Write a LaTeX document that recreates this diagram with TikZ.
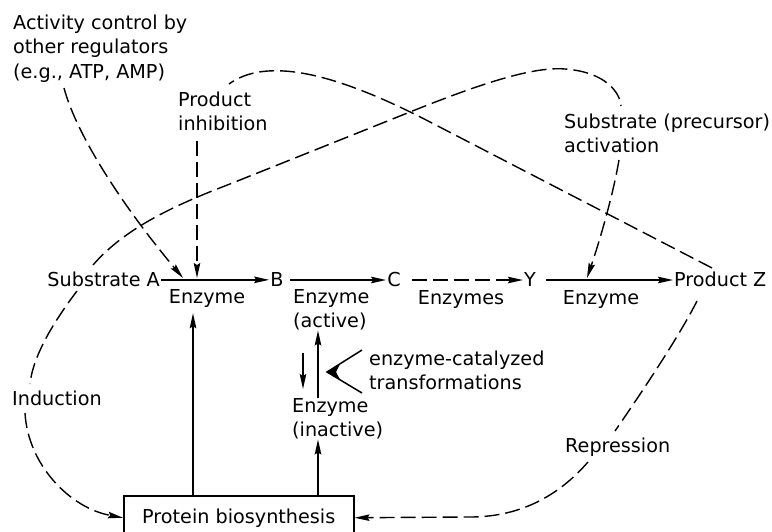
\documentclass[tikz,border=0pt]{standalone}
\usepackage{fontspec}
\setmainfont{DejaVu Sans}
\usetikzlibrary{arrows.meta}
\begin{document}
\begin{tikzpicture}[x=1pt,y=-1pt,
  every node/.style={font=\fontsize{19.2}{24.5}\selectfont, inner sep=1pt},
  lbl/.style={align=left, inner sep=0pt, anchor=north west},
  arr/.style={line width=1.7pt, -{Stealth[length=15pt,width=6.5pt,inset=2pt]}},
  dsh/.style={line width=1.4pt, dash pattern=on 15pt off 6pt},
  darr/.style={dsh, -{Stealth[length=15pt,width=6.5pt,inset=2pt]}},
  boxstyle/.style={draw, line width=1.5pt, minimum width=230pt, minimum height=44pt, anchor=north west, inner sep=0pt}
]
\fill[white] (0,0) rectangle (772,532);
\useasboundingbox (0,0) rectangle (772,532);

% labels
\node[lbl] (act) at (13,14.4) {Activity control by\\other regulators\\(e.g., ATP, AMP)};
\node[lbl] (pi) at (178,91.4) {Product\\inhibition};
\node[lbl] (sa) at (564,113.4) {Substrate (precursor)\\activation};
\node[anchor=base west] (ind) at (11,405) {Induction};
\node[anchor=base west] (rep) at (564,452) {Repression};

% main row
\node[anchor=base east] (sub) at (161,287) {Substrate A};
\node[anchor=base] (B) at (277,287) {B};
\node[anchor=base] (C) at (394,287) {C};
\node[anchor=base] (Y) at (530,287) {Y};
\node[anchor=base west] (Z) at (673,287) {Product Z};

\node[anchor=base] (e1) at (207,303) {Enzyme};
\node[lbl] (ea) at (293,289) {Enzyme\\(active)};
\node[anchor=base] (es) at (461,305) {Enzymes};
\node[anchor=base] (e2) at (601,305) {Enzyme};
\node[lbl] (ei) at (292,398) {Enzyme\\(inactive)};
\node[lbl] (ect) at (369,350.4) {enzyme-catalyzed\\transformations};

\node[boxstyle] (psb) at (123,495) {Protein biosynthesis};

% main reaction arrows
\draw[arr] (sub.east) -- (sub.east -| B.west);
\draw[arr, shorten <=5pt] (B.east) -- (B.east -| C.west);
\draw[darr, shorten <=10pt] (C.east) -- (C.east -| Y.west);
\draw[arr, shorten <=9pt] (Y.east) -- (Y.east -| Z.west);

% vertical arrows
\coordinate (v1) at (193,0);
\coordinate (v2) at (318,0);
\draw[arr, shorten >=5pt] (psb.north -| v1) -- (e1.south -| v1);
\draw[arr] (psb.north -| v2) -- (ei.south -| v2);
\draw[arr] (ei.north -| v2) -- (ea.south -| v2);
\coordinate (d1) at (303,353);
\coordinate (d2) at (303,389);
\draw[arr] (d1) -- (d2);

% catalyzed mark
\coordinate (m1) at (362,350);
\coordinate (mv) at (327,372);
\coordinate (m2) at (362,393);
\draw[line width=1.5pt] (m1) -- (mv) -- (m2);
\fill (mv) -- (340,364) -- (336,372) -- (340,379.5) -- cycle;

% activity control
\coordinate (ac0) at (64,88);
\coordinate (ac1) at (183,278);
\draw[darr] (ac0) .. controls (78,140) and (130,215) .. (ac1);

% product inhibition
\coordinate (pi0) at (197,141);
\coordinate (pi1) at (197,278);
\draw[darr] (pi0) -- (pi1);

% feedback from product Z to product inhibition
\coordinate (zf0) at (712,268);
\coordinate (zf1) at (229,84);
\draw[dsh] (zf0) -- (430,122) .. controls (330,70) and (265,58) .. (zf1);

% substrate activation
\coordinate (sa0) at (93,265);
\coordinate (sa1) at (621,106);
\coordinate (sa2) at (619,160);
\coordinate (sa3) at (587,278);
\draw[dsh] (sa0) .. controls (125,228) and (175,205) .. (230,184) -- (410,112)
  .. controls (470,88) and (530,66) .. (565,69)
  .. controls (605,72) and (620,92) .. (sa1);
\draw[darr] (sa2) .. controls (613,195) and (600,240) .. (sa3);

% induction
\coordinate (in0) at (77,291);
\coordinate (in1) at (30,384);
\coordinate (in2) at (25,413);
\draw[dsh] (in0) .. controls (55,320) and (33,355) .. (in1);
\draw[darr] (in2) .. controls (28,465) and (70,508) .. (psb.west);

% repression
\coordinate (re0) at (697,301);
\coordinate (re1) at (615,431);
\coordinate (re2) at (588,462);
\draw[dsh] (re0) .. controls (680,335) and (640,395) .. (re1);
\draw[darr] (re2) .. controls (555,500) and (515,517) .. (470,517) -- (psb.east);
\end{tikzpicture}
\end{document}
